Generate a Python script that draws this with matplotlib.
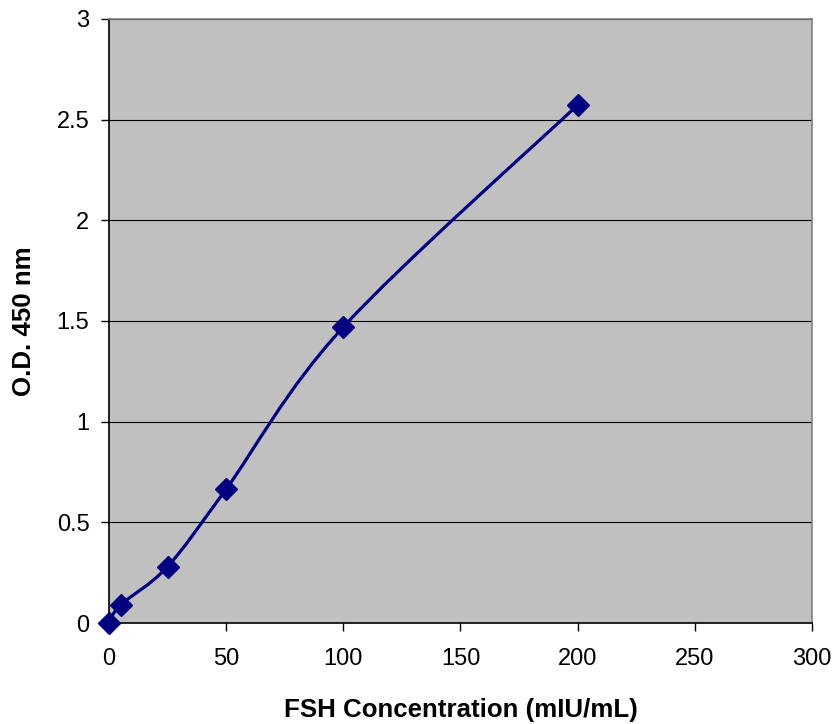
import numpy as np
import matplotlib.pyplot as plt
from matplotlib.path import Path
from matplotlib.patches import PathPatch

plt.rcParams['font.family'] = ['Liberation Sans', 'DejaVu Sans']

concentration = [0, 5, 25, 50, 100, 200]
od_450 = [0.0, 0.09, 0.28, 0.665, 1.47, 2.573]

x_ticks = [0, 50, 100, 150, 200, 250, 300]
y_ticks = [0, 0.5, 1, 1.5, 2, 2.5, 3]
y_tick_labels = ['0', '0.5', '1', '1.5', '2', '2.5', '3']


def smooth_path(xs, ys):
    # excel style smoothed line: cubic bezier through the points
    pts = np.column_stack([xs, ys]).astype(float)
    n = len(pts)
    verts = [pts[0]]
    codes = [Path.MOVETO]
    for i in range(n - 1):
        p0 = pts[i - 1] if i > 0 else pts[i]
        p1 = pts[i]
        p2 = pts[i + 1]
        p3 = pts[i + 2] if i + 2 < n else pts[i + 1]
        c1 = p1 + (p2 - p0) / 6.0
        c2 = p2 - (p3 - p1) / 6.0
        verts += [c1, c2, p2]
        codes += [Path.CURVE4] * 3
    return Path(verts, codes)


fig = plt.figure(figsize=(8.38, 7.24), dpi=100)
ax = fig.add_axes([0.130, 0.1395, 0.839, 0.8343])
ax.set_facecolor('#c0c0c0')

line_color = '#000080'
ax.add_patch(PathPatch(smooth_path(concentration, od_450), facecolor='none',
                       edgecolor=line_color, linewidth=2.3, zorder=3))
ax.plot(concentration, od_450, linestyle='none', marker='D', markersize=11.5,
        color=line_color, zorder=4, clip_on=False)

ax.set_xlim(0, 300)
ax.set_ylim(0, 3)
ax.set_xticks(x_ticks)
ax.set_yticks(y_ticks)
ax.set_yticklabels(y_tick_labels)
ax.tick_params(axis='both', direction='out', length=6, width=1, labelsize=17,
               colors='black')
ax.tick_params(axis='x', pad=12)
ax.tick_params(axis='y', pad=8)

ax.grid(axis='y', color='black', linewidth=0.8)
ax.set_axisbelow(True)

ax.spines['left'].set_color('black')
ax.spines['bottom'].set_color('black')
ax.spines['top'].set_color('#808080')
ax.spines['right'].set_color('#808080')
for s in ax.spines.values():
    s.set_linewidth(1.2)

ax.set_xlabel('FSH Concentration (mIU/mL)', fontsize=18.6, fontweight='bold',
              labelpad=20)
ax.set_ylabel('O.D. 450 nm', fontsize=18.6, fontweight='bold', labelpad=15)

fig.savefig('out.png', dpi=100)
